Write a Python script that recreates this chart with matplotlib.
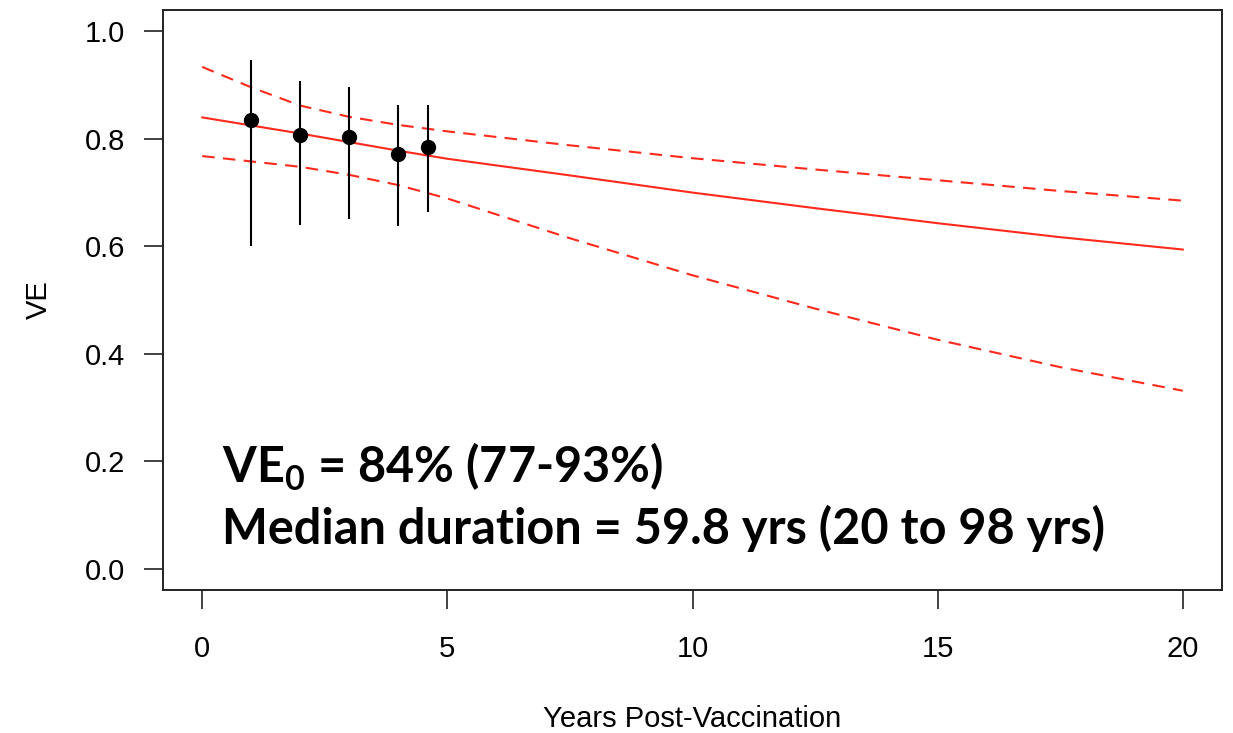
import matplotlib
matplotlib.use("Agg")
import matplotlib.pyplot as plt

plt.rcParams['font.family'] = ['Liberation Sans', 'DejaVu Sans']
plt.rcParams['mathtext.fontset'] = 'custom'
plt.rcParams['mathtext.rm'] = 'Lato'
plt.rcParams['mathtext.bf'] = 'Lato:bold'

# observed VE by year with 95% intervals
obs_years = [1, 2, 3, 4, 4.6]
obs_ve = [0.836, 0.808, 0.803, 0.772, 0.785]
obs_lo = [0.601, 0.639, 0.650, 0.637, 0.664]
obs_hi = [0.946, 0.907, 0.896, 0.863, 0.863]

# fitted waning curve and its confidence band
fit_years = [0, 1, 2, 3, 4, 5, 7.5, 10, 12.5, 15, 17.5, 20]
fit_ve = [0.840, 0.825, 0.810, 0.794, 0.778, 0.763, 0.732, 0.700, 0.671, 0.643, 0.617, 0.594]
fit_hi = [0.934, 0.896, 0.862, 0.841, 0.826, 0.814, 0.788, 0.764, 0.743, 0.723, 0.703, 0.685]
fit_lo = [0.768, 0.758, 0.748, 0.733, 0.714, 0.689, 0.615, 0.546, 0.484, 0.426, 0.375, 0.331]

red = '#ff2a1c'

fig = plt.figure(figsize=(12.33, 7.33), dpi=100)
ax = fig.add_axes([163 / 1233, 143 / 733, 1059 / 1233, 580 / 733])

ax.plot(fit_years, fit_ve, color=red, lw=1.5)
ax.plot(fit_years, fit_hi, color=red, lw=1.5, linestyle=(0, (6, 4)))
ax.plot(fit_years, fit_lo, color=red, lw=1.5, linestyle=(0, (6, 4)))

ax.vlines(obs_years, obs_lo, obs_hi, color='black', lw=1.5)
ax.plot(obs_years, obs_ve, 'o', color='black', markersize=10)

ax.set_xlim(-0.8, 20.8)
ax.set_ylim(-0.04, 1.04)
ax.set_xticks([0, 5, 10, 15, 20])
ax.set_yticks([0.0, 0.2, 0.4, 0.6, 0.8, 1.0])
ax.set_yticklabels(['0.0', '0.2', '0.4', '0.6', '0.8', '1.0'])
ax.tick_params(axis='both', direction='out', length=13.5, width=1.2, labelsize=21, color='#222222')
ax.tick_params(axis='x', pad=19)
ax.tick_params(axis='y', pad=13.7)
for s in ax.spines.values():
    s.set_linewidth(1.4)
    s.set_color('#222222')

ax.set_xlabel('Years Post-Vaccination', fontsize=21, labelpad=30)
ax.set_ylabel('VE', fontsize=21, labelpad=23)

ax.text(0.4, 0.160, r'VE$_{\mathbf{0}}$ = 84% (77-93%)', fontsize=35, fontweight='bold',
        family='Lato', ha='left', va='baseline')
ax.text(0.4, 0.045, 'Median duration = 59.8 yrs (20 to 98 yrs)', fontsize=35, fontweight='bold',
        family='Lato', ha='left', va='baseline')

fig.savefig('out.png', dpi=100)
